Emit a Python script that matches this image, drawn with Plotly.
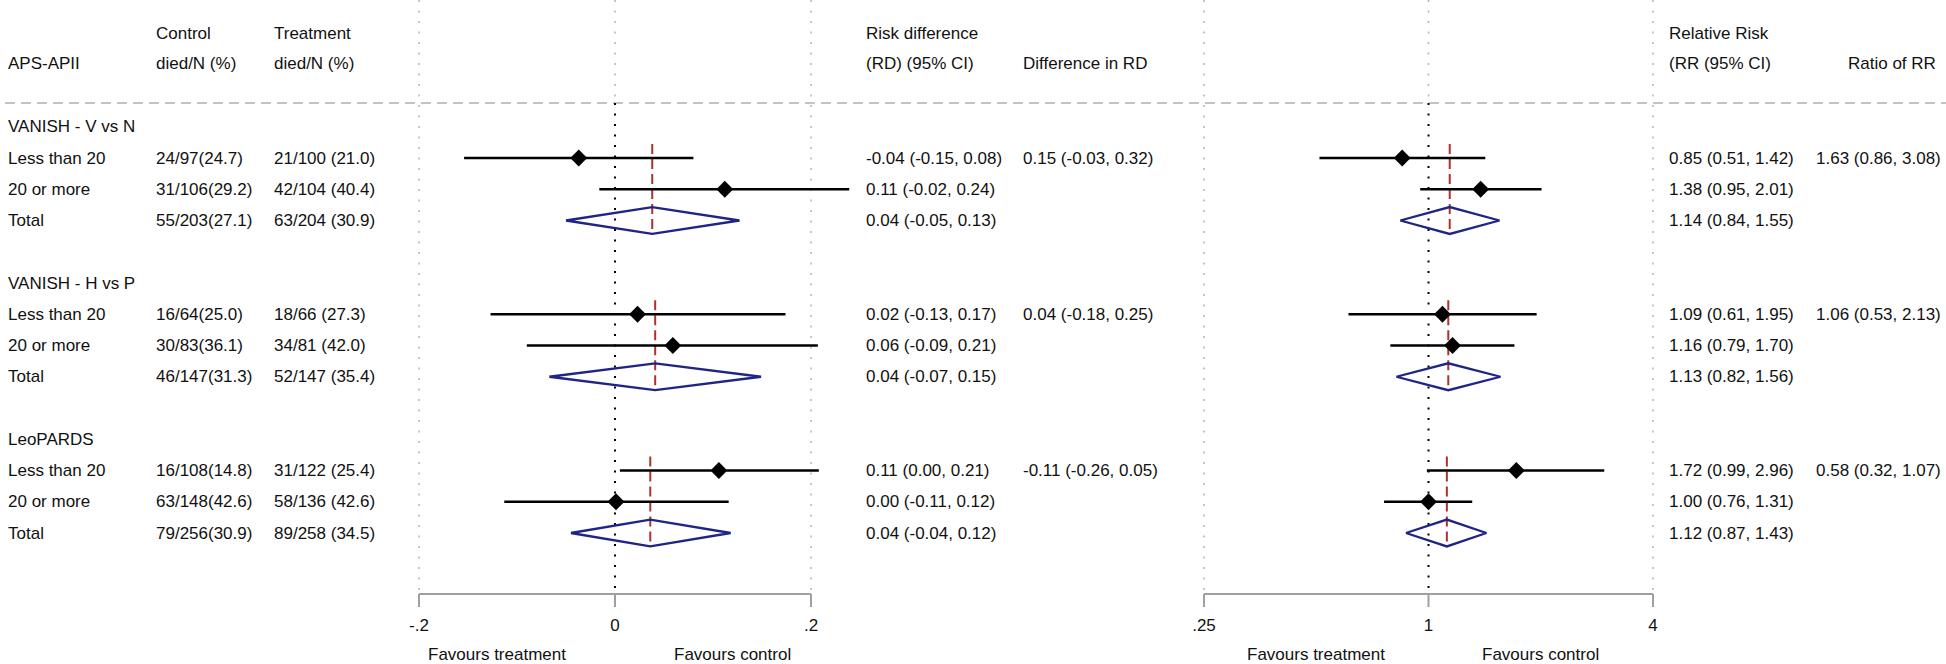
import math
import plotly.graph_objects as go

# ---------------- data ----------------
groups = ["VANISH - V vs N", "VANISH - H vs P", "LeoPARDS"]
subgroups = ["Less than 20", "20 or more", "Total"]
control = ["24/97(24.7)", "31/106(29.2)", "55/203(27.1)",
           "16/64(25.0)", "30/83(36.1)", "46/147(31.3)",
           "16/108(14.8)", "63/148(42.6)", "79/256(30.9)"]
treatment = ["21/100 (21.0)", "42/104 (40.4)", "63/204 (30.9)",
             "18/66 (27.3)", "34/81 (42.0)", "52/147 (35.4)",
             "31/122 (25.4)", "58/136 (42.6)", "89/258 (34.5)"]
rd_est = [-0.037, 0.112, 0.038, 0.023, 0.059, 0.041, 0.106, 0.001, 0.036]
rd_lo = [-0.154, -0.016, -0.050, -0.127, -0.090, -0.067, 0.005, -0.113, -0.045]
rd_hi = [0.080, 0.239, 0.127, 0.174, 0.207, 0.149, 0.208, 0.116, 0.118]
rd_text = ["-0.04 (-0.15, 0.08)", "0.11 (-0.02, 0.24)", "0.04 (-0.05, 0.13)",
           "0.02 (-0.13, 0.17)", "0.06 (-0.09, 0.21)", "0.04 (-0.07, 0.15)",
           "0.11 (0.00, 0.21)", "0.00 (-0.11, 0.12)", "0.04 (-0.04, 0.12)"]
rd_diff = ["0.15 (-0.03, 0.32)", "0.04 (-0.18, 0.25)", "-0.11 (-0.26, 0.05)"]
rr_est = [0.85, 1.38, 1.14, 1.09, 1.16, 1.13, 1.72, 1.00, 1.12]
rr_lo = [0.51, 0.95, 0.84, 0.61, 0.79, 0.82, 0.99, 0.76, 0.87]
rr_hi = [1.42, 2.01, 1.55, 1.95, 1.70, 1.56, 2.96, 1.31, 1.43]
rr_text = ["0.85 (0.51, 1.42)", "1.38 (0.95, 2.01)", "1.14 (0.84, 1.55)",
           "1.09 (0.61, 1.95)", "1.16 (0.79, 1.70)", "1.13 (0.82, 1.56)",
           "1.72 (0.99, 2.96)", "1.00 (0.76, 1.31)", "1.12 (0.87, 1.43)"]
rr_ratio = ["1.63 (0.86, 3.08)", "1.06 (0.53, 2.13)", "0.58 (0.32, 1.07)"]
rd_ticks = [-0.2, 0, 0.2]
rd_ticktext = ["-.2", "0", ".2"]
rr_ticks = [0.25, 1, 4]
rr_ticktext = [".25", "1", "4"]
favours = ["Favours treatment", "Favours control"]
rd_fav_x = [-0.12, 0.12]
rr_fav_x = [0.5, 2.0]

# ---------------- layout geometry ----------------
W, H = 1946, 664
ROW0_PX, ROW_PX = 126.75, 31.25


def px_to_row(p):
    return (p - ROW0_PX) / ROW_PX


Y_RANGE = [px_to_row(H), px_to_row(0)]
HEAD1, HEAD2 = -3.0, -2.04
HEADER_LINE = px_to_row(103)
GRID_BOTTOM = px_to_row(590)
AXIS_PX = 594
AXIS_ROW = px_to_row(AXIS_PX)
TICK_ROW = px_to_row(AXIS_PX + 13)
FAV_ROW = px_to_row(654)

RD_PX = (419, 811)
rd_scale = (RD_PX[1] - RD_PX[0]) / (rd_ticks[-1] - rd_ticks[0])
RD_DOM = (340, 900)
rd_range = [rd_ticks[0] + (RD_DOM[0] - RD_PX[0]) / rd_scale,
            rd_ticks[0] + (RD_DOM[1] - RD_PX[0]) / rd_scale]

RR_PX = (1204, 1653)
lg0, lg1 = math.log10(rr_ticks[0]), math.log10(rr_ticks[-1])
rr_scale = (RR_PX[1] - RR_PX[0]) / (lg1 - lg0)
RR_DOM = (1140, 1710)
rr_range = [lg0 + (RR_DOM[0] - RR_PX[0]) / rr_scale,
            lg0 + (RR_DOM[1] - RR_PX[0]) / rr_scale]

FONT = "Liberation Sans, Arial, sans-serif"
TXT = "#111111"
FS = 17
GRAY_DOT = "#b4b4b4"
AXIS_GRAY = "#a0a0a0"
RED = "#b03030"
NAVY = "#1e2585"
DIAM_H = 0.43

# rows
sub_rows = []
group_rows = []
for g in range(len(groups)):
    base = g * 5
    group_rows.append(base)
    for s in range(len(subgroups)):
        sub_rows.append(base + 1 + s)

fig = go.Figure()


def add_panel(xa, est, lo, hi, ticks):
    gmin, zero, gmax = ticks
    # gridlines
    gx, gy = [], []
    for v in (gmin, gmax):
        gx += [v, v, None]
        gy += [Y_RANGE[1], GRID_BOTTOM, None]
    gx += [zero, zero, None]
    gy += [Y_RANGE[1], HEADER_LINE, None]
    fig.add_trace(go.Scatter(x=gx, y=gy, xaxis=xa, yaxis="y", mode="lines",
                             line=dict(color=GRAY_DOT, width=1.5, dash="2px,8.5px"),
                             hoverinfo="skip", showlegend=False))
    fig.add_trace(go.Scatter(x=[zero, zero], y=[HEADER_LINE, GRID_BOTTOM], xaxis=xa, yaxis="y",
                             mode="lines", line=dict(color="#000000", width=2, dash="2px,8.5px"),
                             hoverinfo="skip", showlegend=False))
    # axis line with downward ticks
    ax_x = [gmin, gmax, None]
    ax_y = [AXIS_ROW, AXIS_ROW, None]
    for v in ticks:
        ax_x += [v, v, None]
        ax_y += [AXIS_ROW, TICK_ROW, None]
    fig.add_trace(go.Scatter(x=ax_x, y=ax_y, xaxis=xa, yaxis="y", mode="lines",
                             line=dict(color=AXIS_GRAY, width=2),
                             hoverinfo="skip", showlegend=False))
    # red dashed pooled line
    rx, ry = [], []
    for g in range(len(groups)):
        tot = g * 3 + 2
        rx += [est[tot], est[tot], None]
        ry += [sub_rows[g * 3] - 0.45, sub_rows[tot] + 0.45, None]
    fig.add_trace(go.Scatter(x=rx, y=ry, xaxis=xa, yaxis="y", mode="lines",
                             line=dict(color=RED, width=2, dash="10px,5px"),
                             hoverinfo="skip", showlegend=False))
    # CI lines and points for subgroups, diamonds for totals
    cx, cy, px_, py_ = [], [], [], []
    dx, dy = [], []
    for i, r in enumerate(sub_rows):
        if i % 3 == 2:
            dx += [lo[i], est[i], hi[i], est[i], lo[i], None]
            dy += [r, r - DIAM_H, r, r + DIAM_H, r, None]
        else:
            cx += [lo[i], hi[i], None]
            cy += [r, r, None]
            px_.append(est[i])
            py_.append(r)
    fig.add_trace(go.Scatter(x=cx, y=cy, xaxis=xa, yaxis="y", mode="lines",
                             line=dict(color="#000000", width=2.7),
                             hoverinfo="skip", showlegend=False))
    fig.add_trace(go.Scatter(x=px_, y=py_, xaxis=xa, yaxis="y", mode="markers",
                             marker=dict(symbol="diamond", size=13, color="#000000"),
                             hoverinfo="skip", showlegend=False))
    fig.add_trace(go.Scatter(x=dx, y=dy, xaxis=xa, yaxis="y", mode="lines",
                             line=dict(color=NAVY, width=2.3),
                             hoverinfo="skip", showlegend=False))


add_panel("x", rd_est, rd_lo, rd_hi, rd_ticks)
add_panel("x3", rr_est, rr_lo, rr_hi, rr_ticks)

# invisible traces so that the tick-label axes are drawn
fig.add_trace(go.Scatter(x=[rd_ticks[0], rd_ticks[-1]], y=[-50, -50], xaxis="x2", yaxis="y",
                         mode="markers", marker=dict(opacity=0), hoverinfo="skip", showlegend=False))
fig.add_trace(go.Scatter(x=[rr_ticks[0], rr_ticks[-1]], y=[-50, -50], xaxis="x4", yaxis="y",
                         mode="markers", marker=dict(opacity=0), hoverinfo="skip", showlegend=False))

ann = []


def txt(x, y, s, xanchor="left", xref="paper"):
    ann.append(dict(x=x, y=y, xref=xref, yref="y", text=s, showarrow=False,
                    xanchor=xanchor, yanchor="middle", borderpad=0,
                    font=dict(family=FONT, size=FS, color=TXT)))


X_LAB, X_CON, X_TRT, X_RD, X_DRD, X_RR, X_RAT, X_RAT_HEAD = 7, 155, 273, 865, 1022, 1668, 1815, 1937
txt(X_LAB / W, HEAD2, "APS-APII")
txt(X_CON / W, HEAD1, "Control")
txt(X_CON / W, HEAD2, "died/N (%)")
txt(X_TRT / W, HEAD1, "Treatment")
txt(X_TRT / W, HEAD2, "died/N (%)")
txt(X_RD / W, HEAD1, "Risk difference")
txt(X_RD / W, HEAD2, "(RD) (95% CI)")
txt(X_DRD / W, HEAD2, "Difference in RD")
txt(X_RR / W, HEAD1, "Relative Risk")
txt(X_RR / W, HEAD2, "(RR (95% CI)")
txt(X_RAT_HEAD / W, HEAD2, "Ratio of RR", xanchor="right")

for g, name in enumerate(groups):
    txt(X_LAB / W, group_rows[g], name)
    txt(X_DRD / W, sub_rows[g * 3], rd_diff[g])
    txt(X_RAT / W, sub_rows[g * 3], rr_ratio[g])
for i, r in enumerate(sub_rows):
    txt(X_LAB / W, r, subgroups[i % 3])
    txt(X_CON / W, r, control[i])
    txt(X_TRT / W, r, treatment[i])
    txt(X_RD / W, r, rd_text[i])
    txt(X_RR / W, r, rr_text[i])

for k, s in enumerate(favours):
    txt(rd_fav_x[k], FAV_ROW, s, xanchor="center", xref="x")
    txt(math.log10(rr_fav_x[k]), FAV_ROW, s, xanchor="center", xref="x3")

axis_style = dict(anchor="free", position=(H - AXIS_PX) / H, showline=False,
                  ticks="", showgrid=False, zeroline=False, automargin=False,
                  tickfont=dict(family=FONT, size=FS, color=TXT), ticklabelstandoff=19,
                  fixedrange=True)

fig.update_layout(
    width=W, height=H,
    margin=dict(l=0, r=0, t=0, b=0, pad=0, autoexpand=False),
    paper_bgcolor="white", plot_bgcolor="rgba(0,0,0,0)",
    showlegend=False, hovermode=False,
    xaxis=dict(domain=[RD_DOM[0] / W, RD_DOM[1] / W], range=rd_range, visible=False,
               automargin=False),
    xaxis3=dict(domain=[RR_DOM[0] / W, RR_DOM[1] / W], range=rr_range, type="log",
                visible=False, anchor="y", automargin=False),
    xaxis2=dict(domain=[RD_PX[0] / W, RD_PX[1] / W], range=[rd_ticks[0], rd_ticks[-1]],
                tickvals=rd_ticks, ticktext=rd_ticktext, **axis_style),
    xaxis4=dict(domain=[RR_PX[0] / W, RR_PX[1] / W], range=[lg0, lg1], type="log",
                tickvals=rr_ticks, ticktext=rr_ticktext, **axis_style),
    yaxis=dict(domain=[0, 1], range=Y_RANGE, visible=False, fixedrange=True, automargin=False),
    annotations=ann,
    shapes=[dict(type="line", xref="paper", yref="y", x0=5 / W, x1=1, y0=HEADER_LINE, y1=HEADER_LINE,
                 line=dict(color="#c4c4c4", width=2, dash="10px,6px"), layer="below")],
)

fig.write_html("out.html", config={"displayModeBar": False},
               post_script="document.body.style.margin='0';")
